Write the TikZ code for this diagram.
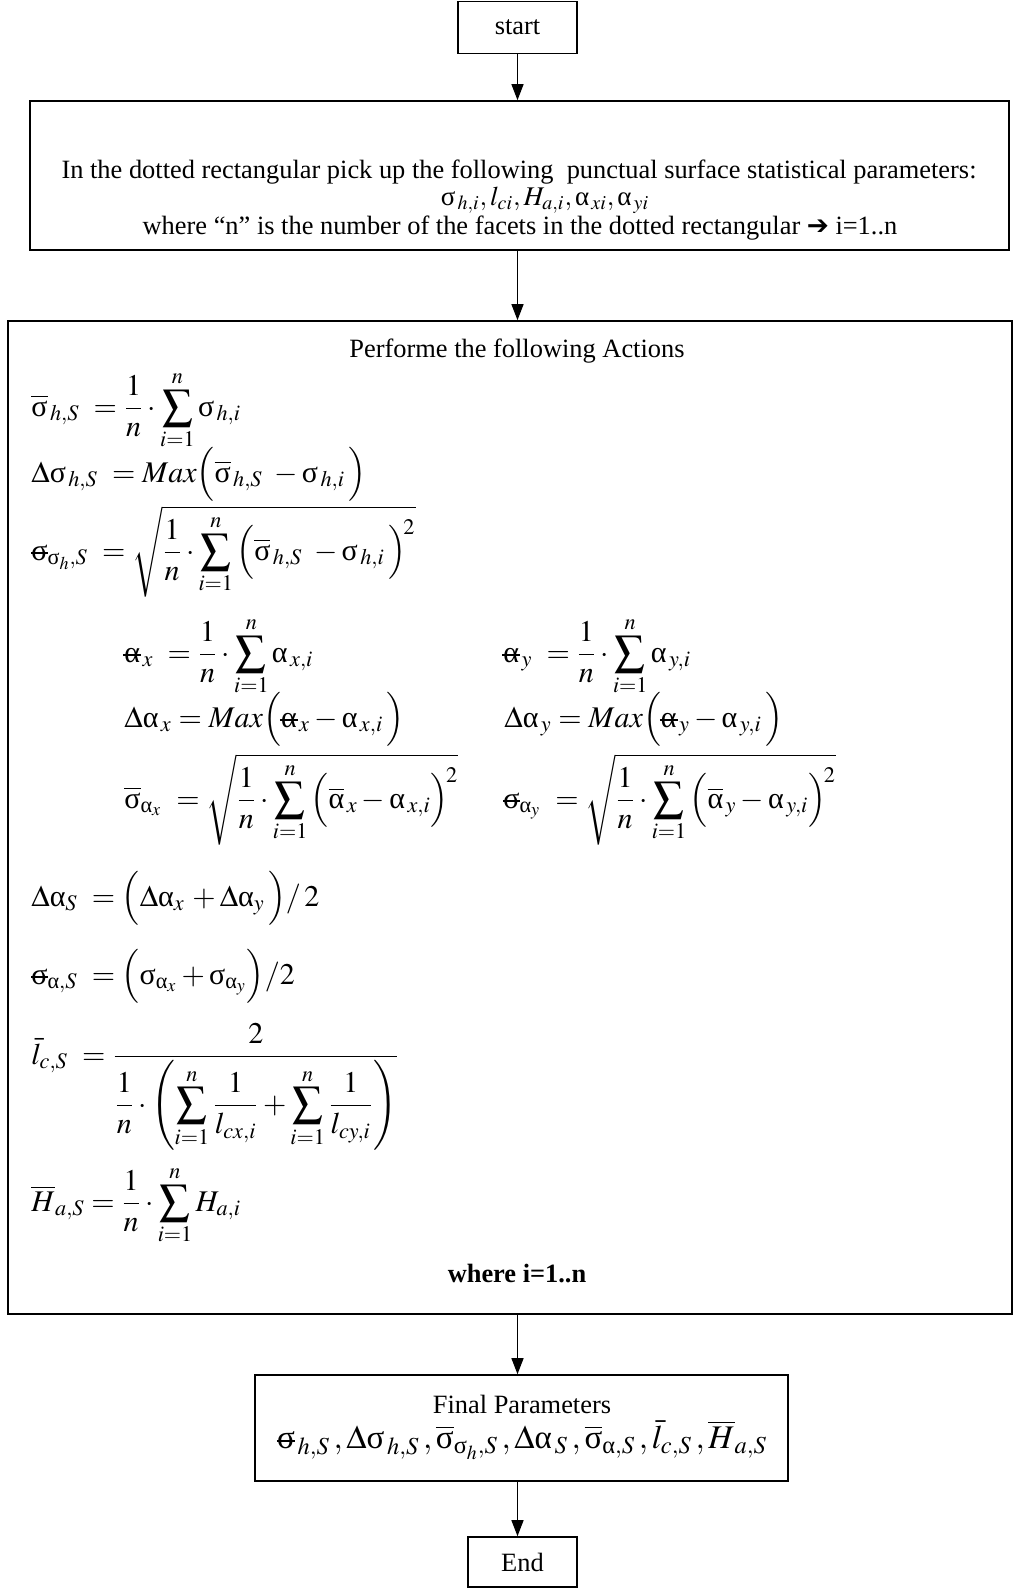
\documentclass[tikz,border=0pt]{standalone}
\usepackage{amsmath}
\usepackage{mathptmx}
\usepackage{fontspec}
\setmainfont{Liberation Serif}
\newfontfamily\dejavu{DejaVu Sans}
\usetikzlibrary{arrows.meta}
\newcommand{\gsig}{\text{σ}}
\newcommand{\galp}{\text{α}}
\newcommand{\gsigbar}{\overline{\text{σ}}}
\newcommand{\galpbar}{\overline{\text{α}}}
\newcommand{\gsigstrk}{\text{\ooalign{σ\cr\hidewidth\rule[0.21em]{0.55em}{0.05em}\hidewidth\cr}}}
\newcommand{\galpstrk}{\text{\ooalign{α\cr\hidewidth\rule[0.21em]{0.6em}{0.05em}\hidewidth\cr}}}
\tikzset{
	box/.style={draw, line width=0.8pt, inner sep=0pt, font=\fontsize{13.2}{15}\selectfont},
	arr/.style={-{Triangle[length=8pt,width=6pt]}, line width=0.6pt},
	txt/.style={inner sep=0pt, font=\fontsize{13.2}{15}\selectfont},
	eq/.style={anchor=base west, inner sep=0pt, font=\fontsize{15}{18}\selectfont},
	eqc/.style={inner sep=0pt, font=\fontsize{15}{18}\selectfont},
}
\begin{document}
\begin{tikzpicture}[x=0.5pt, y=-0.5pt]
		\useasboundingbox (0,0) rectangle (1014,1588);
		\node[box, minimum width=59.5pt, minimum height=26pt] (start) at (517.5,27.5) {start};
		\node[box, minimum width=489.5pt, minimum height=74.5pt] (pick) at (519.5,175.5) {};
		\node[box, minimum width=502pt, minimum height=496.5pt] (act) at (510,817.5) {};
		\node[box, minimum width=266.5pt, minimum height=53pt] (final) at (521.5,1428) {};
		\node[box, minimum width=54.5pt, minimum height=25pt] (finish) at (522.5,1562) {End};
		\node[txt] (pickA) at (519,172) {In the dotted rectangular pick up the following\ \ punctual surface statistical parameters:};
		\node[eqc, font=\fontsize{13.5}{16}\selectfont] (pickB) at (545,200) {$\gsig_{\,h,i}, l_{ci}, H_{a,i}, \galp_{\,xi}, \galp_{\,yi}$};
		\node[txt] (pickC) at (520,228) {where “n” is the number of the facets in the dotted rectangular {\dejavu\bfseries ➔} i=1..n};
		\node[txt] (actT) at (517,351) {Performe the following Actions};
		\node[eq] (sigS) at (31,416) {$\displaystyle\gsigbar_{\,h,S}\ =\frac{1}{n}\cdot\sum_{i=1}^{n}\gsig_{\,h,i}$};
		\node[eq] (dsigS) at (31,482) {$\displaystyle\Delta\gsig_{\,h,S}\ = Max\Big(\gsigbar_{\,h,S}\ -\gsig_{\,h,i}\,\Big)$};
		\node[eq] (ssigS) at (31,560) {$\displaystyle\gsigstrk_{\gsig_h,S}\ =\sqrt{\frac{1}{n}\cdot\sum_{i=1}^{n}\Big(\gsigbar_{\,h,S}\ -\gsig_{\,h,i}\,\Big)^{\!2}}$};
		\node[eq] (alx) at (124,662) {$\displaystyle\galpstrk_{\,x}\ =\frac{1}{n}\cdot\sum_{i=1}^{n}\galp_{\,x,i}$};
		\node[eq] (aly) at (503,662) {$\displaystyle\galpstrk_{\,y}\ =\frac{1}{n}\cdot\sum_{i=1}^{n}\galp_{\,y,i}$};
		\node[eq] (dalx) at (124,727) {$\displaystyle\Delta\galp_{\,x} = Max\Big(\galpstrk_{\,x}-\galp_{\,x,i}\,\Big)$};
		\node[eq] (daly) at (504,727) {$\displaystyle\Delta\galp_{\,y} = Max\Big(\galpstrk_{\,y}-\galp_{\,y,i}\,\Big)$};
		\node[eq] (salx) at (124,808) {$\displaystyle\gsigbar_{\galp_x}\ =\sqrt{\frac{1}{n}\cdot\sum_{i=1}^{n}\Big(\galpbar_{\,x}-\galp_{\,x,i}\Big)^{\!2}}$};
		\node[eq] (saly) at (503,808) {$\displaystyle\gsigstrk_{\galp_y}\ =\sqrt{\frac{1}{n}\cdot\sum_{i=1}^{n}\Big(\galpbar_{\,y}-\galp_{\,y,i}\Big)^{\!2}}$};
		\node[eq] (dalS) at (31,906) {$\displaystyle\Delta\galp_S\ =\Big(\Delta\galp_x\,+\Delta\galp_y\,\Big)/\,2$};
		\node[eq] (salS) at (31,984) {$\displaystyle\gsigstrk_{\galp,S}\ =\Big(\gsig_{\galp_x}+\gsig_{\galp_y}\Big)/2$};
		\node[eq] (lcS) at (31,1064) {$\displaystyle\bar{l}_{c,S}\ =\frac{2}{\displaystyle\frac{1}{n}\cdot\left(\sum_{i=1}^{n}\frac{1}{l_{cx,i}}+\sum_{i=1}^{n}\frac{1}{l_{cy,i}}\right)}$};
		\node[eq] (HaS) at (31,1211) {$\displaystyle\overline{H}_{a,S}=\frac{1}{n}\cdot\sum_{i=1}^{n}H_{a,i}$};
		\node[txt] (where) at (517,1274) {\bfseries where i=1..n};
		\node[txt] (finT) at (522,1404) {Final Parameters};
		\node[eqc, font=\fontsize{16.5}{19}\selectfont] (finP) at (522,1440) {$\gsigstrk_{\,h,S}\,, \Delta\gsig_{\,h,S}\,, \gsigbar_{\gsig_h,S}\,, \Delta\galp_{\,S}\,, \gsigbar_{\galp,S}\,, \bar{l}_{c,S}\,, \overline{H}_{a,S}$};
		\draw[arr] (start.south) -- (start.south |- pick.north);
		\draw[arr] (start.south |- pick.south) -- (start.south |- act.north);
		\draw[arr] (start.south |- act.south) -- (start.south |- final.north);
		\draw[arr] (start.south |- final.south) -- (start.south |- finish.north);
	\end{tikzpicture}
\end{document}
